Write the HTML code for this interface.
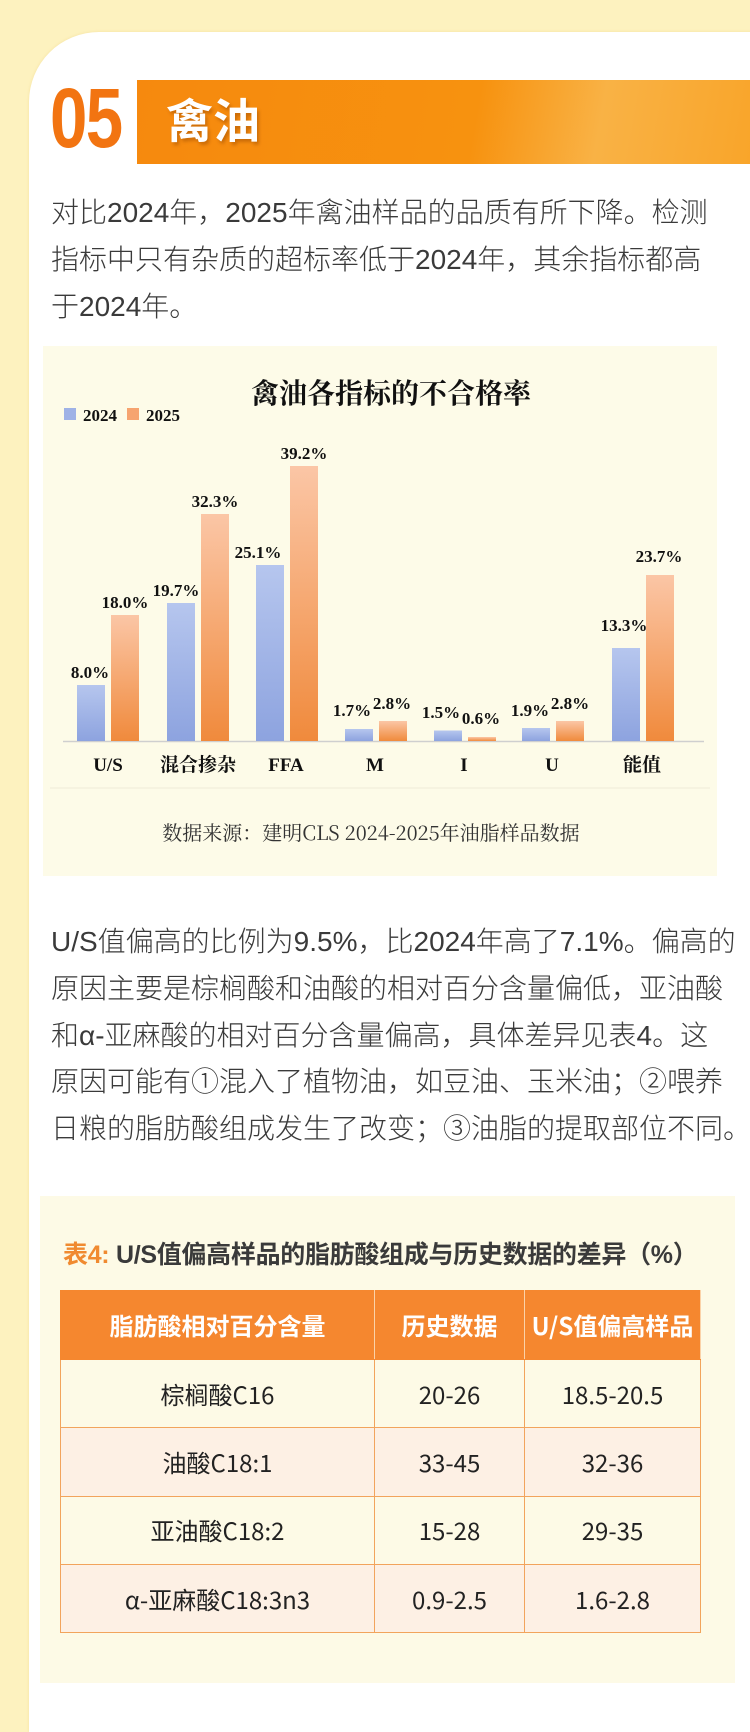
<!DOCTYPE html>
<html><head><meta charset="utf-8"><style>
*{margin:0;padding:0;box-sizing:border-box}
body{width:750px;height:1705px;background:#fdf2bf;position:relative;overflow:hidden;font-family:"Liberation Sans","Noto Sans CJK SC",sans-serif}
.card{position:absolute;left:29px;top:32px;width:760px;height:1700px;background:#fff;border-top-left-radius:70px;box-shadow:0 0 3px #f5e2a0}
.banner{position:absolute;left:137px;top:80px;width:613px;height:84px;background:linear-gradient(100deg,#f6890e 0%,#f7920f 55%,#f9b245 75%,#f9a52a 100%)}
.num{position:absolute;left:50px;top:76px;font:bold 84px/1 "Liberation Sans",sans-serif;color:#f27411;transform:scaleX(0.8);transform-origin:left top;letter-spacing:-2px}
.ttl{position:absolute;left:166px;top:94px;font:bold 47px/1 "Noto Sans CJK SC",sans-serif;color:#fff;text-shadow:2px 3px 3px rgba(150,70,0,.45)}
.p{position:absolute;left:51px;font-size:28px;line-height:46.8px;color:#3a3a3a;white-space:nowrap;font-weight:300}
.chart{position:absolute;left:43px;top:346px;width:674px;height:530px;background:#fdfbe8}
.tbox{position:absolute;left:40px;top:1196px;width:695px;height:487px;background:#fdfae6}
.tt{position:absolute;left:63px;top:1235px;font-size:25px;font-weight:bold;color:#3a3a3a;white-space:nowrap;letter-spacing:-0.3px}
table{position:absolute;left:60px;top:1290px;width:641px;border-collapse:collapse}
td,th{border:1.5px solid #f2a45c;text-align:center;vertical-align:middle;font-size:24px;color:#222;height:68.3px;font-family:"Noto Sans CJK SC",sans-serif;line-height:1}
th{background:#f5872f;color:#fff;font-weight:bold;height:69px;border-color:#f5872f;border-right-color:#fbd2a8}
tr.a td{background:#fdf0e4}
</style></head><body>
<div class="card"></div>
<div class="banner"></div>
<div class="num">05</div>
<div class="ttl">禽油</div>
<div class="p" style="top:190px">对比2024年，2025年禽油样品的品质有所下降。检测<br>指标中只有杂质的超标率低于2024年，其余指标都高<br>于2024年。</div>
<div class="chart"></div>
<svg style="position:absolute;left:0;top:0" width="750" height="900">
<defs>
<linearGradient id="b" x1="0" y1="0" x2="0" y2="1"><stop offset="0" stop-color="#b6c6ee"/><stop offset="1" stop-color="#8da3df"/></linearGradient>
<linearGradient id="o" x1="0" y1="0" x2="0" y2="1"><stop offset="0" stop-color="#fbc6a6"/><stop offset="1" stop-color="#f08a3c"/></linearGradient>
</defs>
<g font-family="Liberation Serif,Noto Serif CJK SC,serif">
<text x="391" y="403" font-size="28" font-weight="bold" text-anchor="middle" fill="#111">禽油各指标的不合格率</text>
<rect x="64" y="408" width="12" height="12" fill="#9fb2e6"/><text x="83" y="421" font-size="17" font-weight="bold" fill="#111">2024</text>
<rect x="127" y="408" width="12" height="12" fill="#f6a470"/><text x="146" y="421" font-size="17" font-weight="bold" fill="#111">2025</text>
<line x1="63" y1="741.5" x2="704" y2="741.5" stroke="#cfcfcf" stroke-width="1.5"/>
<line x1="50" y1="788" x2="710" y2="788" stroke="#eeebd8" stroke-width="1"/>
<g font-size="17" font-weight="bold" fill="#111" text-anchor="middle">
<rect x="77" y="685" width="28" height="56" fill="url(#b)"/><rect x="111" y="615" width="28" height="126" fill="url(#o)"/>
<text x="90" y="678">8.0%</text><text x="125" y="608">18.0%</text>
<rect x="167" y="603" width="28" height="138" fill="url(#b)"/><rect x="201" y="514" width="28" height="227" fill="url(#o)"/>
<text x="176" y="596">19.7%</text><text x="215" y="507">32.3%</text>
<rect x="256" y="565" width="28" height="176" fill="url(#b)"/><rect x="290" y="466" width="28" height="275" fill="url(#o)"/>
<text x="258" y="558">25.1%</text><text x="304" y="459">39.2%</text>
<rect x="345" y="729" width="28" height="12" fill="url(#b)"/><rect x="379" y="721" width="28" height="20" fill="url(#o)"/>
<text x="352" y="716">1.7%</text><text x="392" y="709">2.8%</text>
<rect x="434" y="730.5" width="28" height="10.5" fill="url(#b)"/><rect x="468" y="737" width="28" height="4" fill="url(#o)"/>
<text x="441" y="718">1.5%</text><text x="481" y="724">0.6%</text>
<rect x="522" y="728" width="28" height="13" fill="url(#b)"/><rect x="556" y="721" width="28" height="20" fill="url(#o)"/>
<text x="530" y="716">1.9%</text><text x="570" y="709">2.8%</text>
<rect x="612" y="648" width="28" height="93" fill="url(#b)"/><rect x="646" y="575" width="28" height="166" fill="url(#o)"/>
<text x="624" y="631">13.3%</text><text x="659" y="562">23.7%</text>
</g>
<g font-size="19" font-weight="bold" fill="#111" text-anchor="middle">
<text x="108" y="771">U/S</text><text x="198" y="771">混合掺杂</text><text x="286" y="771">FFA</text><text x="375" y="771">M</text><text x="464" y="771">I</text><text x="552" y="771">U</text><text x="642" y="771">能值</text>
</g>
<text x="371" y="840" font-size="20" text-anchor="middle" fill="#333" font-family="Noto Serif CJK SC,Liberation Serif,serif">数据来源：建明CLS 2024-2025年油脂样品数据</text>
</g>
</svg>
<div class="p" style="top:919px">U/S值偏高的比例为9.5%，比2024年高了7.1%。偏高的<br>原因主要是棕榈酸和油酸的相对百分含量偏低，亚油酸<br>和α-亚麻酸的相对百分含量偏高，具体差异见表4。这<br>原因可能有①混入了植物油，如豆油、玉米油；②喂养<br>日粮的脂肪酸组成发生了改变；③油脂的提取部位不同。</div>
<div class="tbox"></div>
<div class="tt"><span style="color:#f08a30">表4:</span> U/S值偏高样品的脂肪酸组成与历史数据的差异（%）</div>
<table>
<tr><th style="width:314px">脂肪酸相对百分含量</th><th style="width:150px">历史数据</th><th>U/S值偏高样品</th></tr>
<tr><td>棕榈酸C16</td><td>20-26</td><td>18.5-20.5</td></tr>
<tr class="a"><td>油酸C18:1</td><td>33-45</td><td>32-36</td></tr>
<tr><td>亚油酸C18:2</td><td>15-28</td><td>29-35</td></tr>
<tr class="a"><td>α-亚麻酸C18:3n3</td><td>0.9-2.5</td><td>1.6-2.8</td></tr>
</table>
</body></html>
